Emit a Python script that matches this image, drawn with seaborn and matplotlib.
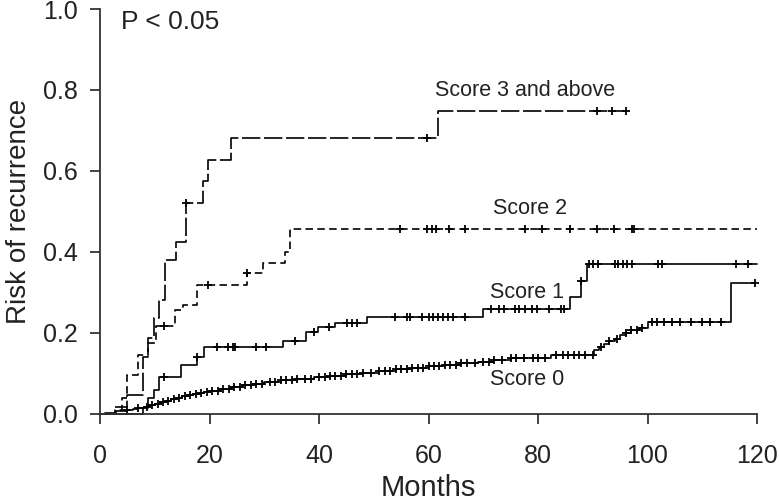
"""
Cumulative risk of recurrence by score group (step curves with censor marks).
"""

import numpy as np
import pandas as pd
import matplotlib
matplotlib.use("Agg")
import matplotlib.pyplot as plt
import seaborn as sns


# ---------------------------------------------------------------------------
# Data (months, cumulative risk)
# ---------------------------------------------------------------------------
score0_times = [1, 3, 5, 6, 7, 8, 9, 10, 11, 12, 13, 14, 15, 16, 17, 18, 19, 20,
                22, 24, 26, 28, 30, 33, 36, 39, 42, 45, 48, 51, 54, 57, 60, 63,
                66, 69, 72, 75, 82.3, 90.3, 91.2, 92.1, 93.0, 94.0, 95.0, 96.0,
                97.0, 98.5, 100.0, 115.3]
score0_risk = [0.003, 0.006, 0.009, 0.012, 0.015, 0.018, 0.021, 0.025, 0.028,
               0.032, 0.036, 0.040, 0.043, 0.046, 0.048, 0.051, 0.054, 0.057,
               0.062, 0.066, 0.070, 0.074, 0.078, 0.083, 0.087, 0.090, 0.094,
               0.098, 0.102, 0.106, 0.110, 0.113, 0.117, 0.121, 0.125, 0.129,
               0.133, 0.137, 0.146, 0.158, 0.166, 0.172, 0.180, 0.186, 0.194,
               0.200, 0.206, 0.212, 0.228, 0.322]
score0_censor = [5, 7, 8.5, 9.5, 10.5, 11.5, 12.5, 13.5, 14.5, 15.5, 16.5, 17.5,
                 18.5, 19.5, 20.5, 21.5, 22.5, 23.5, 24.5, 25.5, 26.5, 27.5,
                 28.5, 29.5, 31, 32, 33, 34, 35, 36, 37.5, 38.5, 40, 41, 42, 43,
                 44, 45, 46, 47, 48, 49.5, 51, 52, 53, 54, 55, 56, 57, 58, 59,
                 60, 61, 62, 63, 64, 65, 66, 67, 68.5, 70, 71, 72, 73.5, 75, 76,
                 77.5, 79, 80, 81.3, 83.2, 84.5, 85.5, 86.5, 87.5, 88.5, 90,
                 91.5, 93, 94.5, 96, 97, 98, 99, 100.8, 101.8, 103, 104.5, 106,
                 108, 110, 111.5, 113.5, 119.7]
score0_end = 119.7

score1_times = [7.9, 8.8, 9.9, 10.7, 14.8, 17.7, 18.9, 33.5, 37.7, 39.9, 42.9,
                48.7, 70.0, 85.9, 87.8, 88.9]
score1_risk = [0.015, 0.040, 0.060, 0.092, 0.121, 0.141, 0.164, 0.180, 0.203,
               0.214, 0.224, 0.238, 0.258, 0.289, 0.329, 0.369]
score1_censor = [11.6, 17.7, 21.4, 23.4, 24.3, 24.7, 28.5, 30.4, 35.6, 39.0,
                 41.9, 45.1, 46.0, 46.9, 53.9, 56.0, 56.6, 58.8, 60.0, 60.9,
                 61.8, 62.7, 63.6, 64.5, 66.7, 71.5, 72.8, 73.7, 75.8, 76.5,
                 77.7, 78.9, 79.9, 82.0, 84.2, 84.8, 87.8, 89.4, 90.0, 91.0,
                 94.0, 94.6, 95.6, 96.2, 97.1, 102.0, 102.7, 116.2, 118.4]
score1_end = 120

score2_times = [2.7, 4.0, 4.9, 6.9, 8.8, 10.2, 13.7, 15.2, 17.7, 26.8, 29.8,
                33.8, 34.7]
score2_risk = [0.010, 0.040, 0.096, 0.146, 0.175, 0.217, 0.257, 0.269, 0.319,
               0.347, 0.372, 0.400, 0.456]
score2_censor = [11.6, 19.8, 26.8, 54.7, 59.7, 60.6, 61.4, 63.7, 66.7, 77.6,
                 80.7, 85.8, 90.7, 93.8, 97.1, 97.6]
score2_end = 120

score3_times = [2.7, 4.9, 7.9, 8.8, 9.8, 10.7, 11.8, 13.8, 15.7, 18.8, 19.8,
                23.9, 61.8]
score3_risk = [0.016, 0.047, 0.141, 0.187, 0.236, 0.281, 0.380, 0.425, 0.522,
               0.574, 0.627, 0.681, 0.748]
score3_censor = [15.7, 59.8, 90.8, 93.5, 96.1]
score3_end = 96.1

labels = ["Score 0", "Score 1", "Score 2", "Score 3 and above"]
x_ticks = [0, 20, 40, 60, 80, 100, 120]
y_ticks = [0.0, 0.2, 0.4, 0.6, 0.8, 1.0]

# ---------------------------------------------------------------------------
# Style
# ---------------------------------------------------------------------------
sns.set_theme(style="ticks")
plt.rcParams['font.family'] = ['Liberation Sans', 'DejaVu Sans']
ink = '#222222'

fig = plt.figure(figsize=(7.79, 5.01), dpi=100)
ax = fig.add_axes([0.1284, 0.174, 0.8434, 0.808])

curves = [
    (score0_times, score0_risk, score0_censor, score0_end, None),
    (score1_times, score1_risk, score1_censor, score1_end, None),
    (score2_times, score2_risk, score2_censor, score2_end, (4.5, 2.6)),
    (score3_times, score3_risk, score3_censor, score3_end, (11, 2.2)),
]

for times, risk, censor, end, dash in curves:
    t = np.array([0] + times + [end], dtype=float)
    r = np.array([0] + risk + [risk[-1]], dtype=float)
    df = pd.DataFrame({"t": t, "r": r})
    sns.lineplot(data=df, x="t", y="r", ax=ax, drawstyle="steps-post",
                 color="black", linewidth=1.2, sort=False, estimator=None,
                 clip_on=False)
    if dash is not None:
        ax.lines[-1].set_dashes(dash)
    # censor marks sit on the curve
    c = np.array(censor, dtype=float)
    idx = np.searchsorted(t, c, side="right") - 1
    ax.plot(c, r[idx], ls="none", marker="+", markersize=6,
            markeredgewidth=1.3, color="black", clip_on=False)

# curve labels
ax.text(61.2, 0.772, labels[3], fontsize=15.5, color=ink, ha="left", va="bottom")
ax.text(71.8, 0.482, labels[2], fontsize=15.5, color=ink, ha="left", va="bottom")
ax.text(71.2, 0.299, labels[1], fontsize=15.5, color=ink, ha="left", va="center")
ax.text(71.2, 0.084, labels[0], fontsize=15.5, color=ink, ha="left", va="center")
ax.text(3.8, 0.968, "P < 0.05", fontsize=19, color=ink, ha="left", va="center")

ax.set_xlim(0, 120)
ax.set_ylim(0, 1.0)
ax.set_xticks(x_ticks)
ax.set_yticks(y_ticks)
ax.set_yticklabels([f"{v:.1f}" for v in y_ticks])
ax.set_xlabel("Months", fontsize=21, color=ink, labelpad=4)
ax.set_ylabel("Risk of recurrence", fontsize=20, color=ink, labelpad=8)
ax.tick_params(axis="both", direction="out", length=7, width=1.2,
               labelsize=18, colors=ink)
ax.tick_params(axis="x", pad=15)
ax.tick_params(axis="y", pad=9)
sns.despine(ax=ax)
for side in ["left", "bottom"]:
    ax.spines[side].set_linewidth(1.3)
    ax.spines[side].set_color('#333333')

fig.savefig("out.png", dpi=100)
